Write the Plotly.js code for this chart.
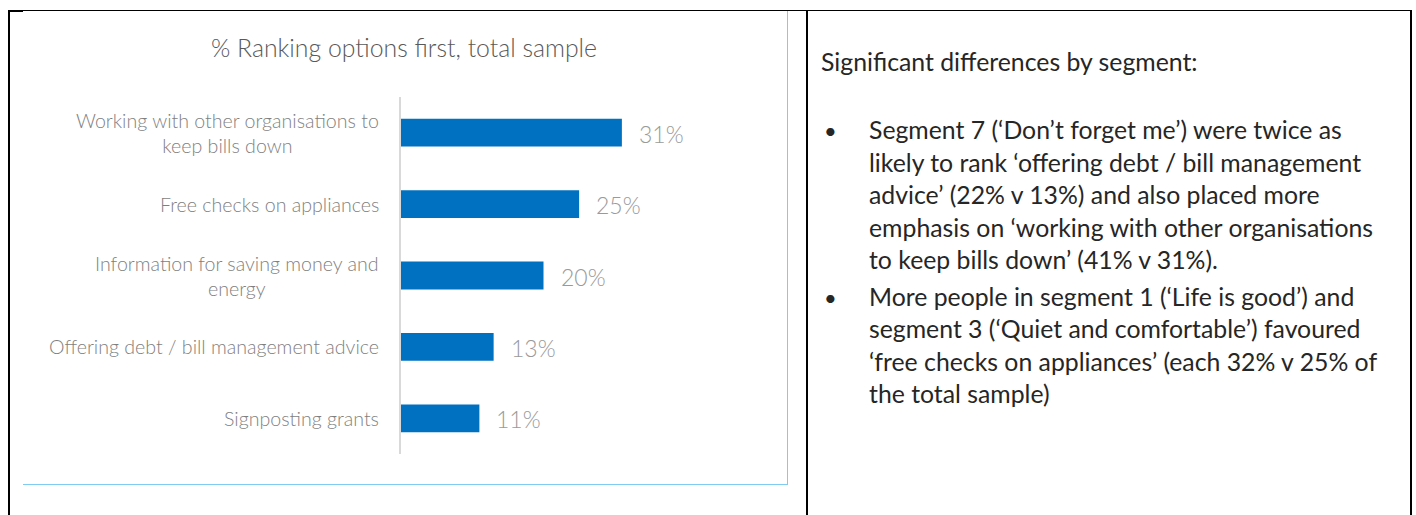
<!DOCTYPE html>
<html>
<head>
<meta charset="utf-8">
<script src="https://cdn.plot.ly/plotly-3.0.1.min.js"></script>
<style>
  html, body { margin:0; padding:0; background:#fff; width:1416px; height:515px; overflow:hidden; }
  #wrap { position:relative; width:1416px; height:515px; }
  #chart { position:absolute; left:0; top:0; width:806px; height:515px; }
  .ln { position:absolute; }
  #notes { position:absolute; left:821px; top:0; font-family:Lato, "Open Sans", sans-serif; font-size:24.8px; color:#262626; }
  #notes .row { position:absolute; white-space:nowrap; line-height:1; transform:translateY(-50%); }
  #notes .bullet { position:absolute; left:3px; font-size:22px; transform:translateY(-50%); }
</style>
</head>
<body>
<div id="wrap">
  <div id="chart"></div>
  <!-- table borders -->
  <div class="ln" style="left:8px;top:10px;width:1404px;height:1px;background:#000;"></div>
  <div class="ln" style="left:8px;top:10px;width:15px;height:2px;background:#000;"></div>
  <div class="ln" style="left:8px;top:10px;width:2px;height:505px;background:#000;"></div>
  <div class="ln" style="left:806px;top:10px;width:2px;height:505px;background:#000;"></div>
  <div class="ln" style="left:1410px;top:10px;width:2px;height:505px;background:#000;"></div>
  <!-- chart object border (light blue) -->
  <div class="ln" style="left:787px;top:11px;width:1px;height:474px;background:#7fcbf2;"></div>
  <div class="ln" style="left:23px;top:484px;width:765px;height:1px;background:#7fcbf2;"></div>
  <div id="notes"></div>
</div>
<script>
// ---- data ----
const categories = [
  "Working with other organisations to<br>keep bills down",
  "Free checks on appliances",
  "Information for saving money and<br>energy",
  "Offering debt / bill management advice",
  "Signposting grants"
];
const values = [31, 25, 20, 13, 11];
const valueLabels = ["31%", "25%", "20%", "13%", "11%"];
const chartTitle = "% Ranking options first, total sample";

const noteHeading = "Significant differences by segment:";
const noteBullets = [
  ["Segment 7 (\u2018Don\u2019t forget me\u2019) were twice as",
   "likely to rank \u2018offering debt / bill management",
   "advice\u2019 (22% v 13%) and also placed more",
   "emphasis on \u2018working with other organisations",
   "to keep bills down\u2019 (41% v 31%)."],
  ["More people in segment 1 (\u2018Life is good\u2019) and",
   "segment 3 (\u2018Quiet and comfortable\u2019) favoured",
   "\u2018free checks on appliances\u2019 (each 32% v 25% of",
   "the total sample)"]
];

// ---- chart ----
const FONT = "Lato, 'Open Sans', sans-serif";
const annotations = [];
categories.forEach((c, i) => {
  annotations.push({
    xref: "paper", x: 0, yref: "y", y: c,
    xanchor: "right", yanchor: "middle", xshift: -20,
    align: "center", showarrow: false,
    text: c, font: {family: FONT, size: 19.6, weight: 300, color: "#7f7f7f"}
  });
  annotations.push({
    xref: "x", x: values[i], yref: "y", y: c,
    xanchor: "left", yanchor: "middle", xshift: 15, yshift: -1,
    showarrow: false,
    text: valueLabels[i], font: {family: FONT, size: 23, weight: 300, color: "#9a9a9a"}
  });
});

const trace = {
  type: "bar", orientation: "h",
  x: values, y: categories,
  marker: {color: "#0070C0"},
  hoverinfo: "none"
};

const layout = {
  width: 806, height: 515,
  margin: {l: 401, r: 120, t: 97, b: 61},
  paper_bgcolor: "rgba(0,0,0,0)", plot_bgcolor: "rgba(0,0,0,0)",
  bargap: 0.61,
  showlegend: false,
  title: {
    text: chartTitle,
    xref: "container", x: 404/806, xanchor: "center",
    yref: "container", y: 1 - 48/515, yanchor: "middle",
    font: {family: FONT, size: 24.8, weight: 300, color: "#595959"}
  },
  xaxis: {range: [0, 40], visible: false, fixedrange: true},
  yaxis: {
    type: "category", autorange: "reversed",
    showticklabels: false, ticks: "",
    showgrid: false, zeroline: false,
    showline: true, linecolor: "#d9d9d9", linewidth: 2,
    fixedrange: true
  },
  annotations: annotations
};

Plotly.newPlot("chart", [trace], layout, {displayModeBar: false, staticPlot: true});

// ---- notes text ----
const notes = document.getElementById("notes");
function addRow(text, x, y) {
  const d = document.createElement("div");
  d.className = "row";
  d.style.left = x + "px";
  d.style.top = y + "px";
  d.textContent = text;
  notes.appendChild(d);
}
addRow(noteHeading, 0, 62);
let y = 130;
noteBullets.forEach((lines, bi) => {
  const b = document.createElement("div");
  b.className = "bullet";
  b.style.top = y + "px";
  b.textContent = "\u2022";
  notes.appendChild(b);
  lines.forEach(t => { addRow(t, 48, y); y += 32.5; });
  y += 4;
});
</script>
</body>
</html>
